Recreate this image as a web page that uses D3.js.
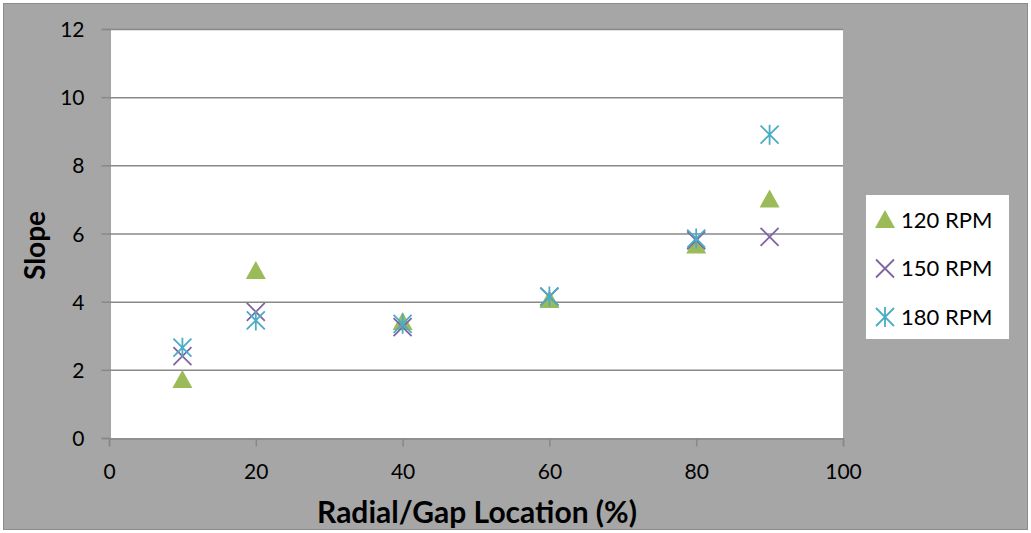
<!DOCTYPE html>
<html lang="en">
  <head>
    <meta charset="UTF-8" />
    <title>Slope chart</title>
    <style>
      body { margin: 0; background: #fff; }
      svg text { font-family: Lato, "Open Sans", sans-serif; fill: #000; }
    </style>
  </head>
  <body>
    <div class="chart"></div>
    <script src="https://d3js.org/d3.v7.min.js"></script>
    <script>
      // data =====================================================
      const locations = [10, 20, 40, 60, 80, 90];
      const rpm120 = [1.7, 4.9, 3.4, 4.05, 5.65, 7.0];
      const rpm150 = [2.4, 3.7, 3.25, 4.15, 5.8, 5.9];
      const rpm180 = [2.65, 3.45, 3.35, 4.15, 5.85, 8.9];
      const xTicks = [0, 20, 40, 60, 80, 100];
      const yTicks = [0, 2, 4, 6, 8, 10, 12];
      const seriesNames = ["120 RPM", "150 RPM", "180 RPM"];

      const W = 1031, H = 533;
      const plot = { left: 109, right: 843, top: 29, bottom: 438 };

      const svg = d3.select(".chart").append("svg")
        .attr("width", W).attr("height", H);

      // background
      svg.append("rect").attr("x", 0).attr("y", 0).attr("width", W).attr("height", H)
        .attr("fill", "#fff");
      svg.append("rect").attr("x", 3.5).attr("y", 3.5).attr("width", W - 7).attr("height", H - 7)
        .attr("fill", "#a6a6a6").attr("stroke", "#8c8c8c").attr("stroke-width", 1);

      const x = d3.scaleLinear().domain([0, 100]).range([plot.left, plot.right]);
      const y = d3.scaleLinear().domain([0, 12]).range([plot.bottom, plot.top]);

      svg.append("rect")
        .attr("x", plot.left).attr("y", plot.top)
        .attr("width", plot.right - plot.left).attr("height", plot.bottom - plot.top)
        .attr("fill", "#fff");

      // gridlines
      svg.append("g").selectAll("line").data(yTicks.filter(d => d > 0)).enter().append("line")
        .attr("x1", plot.left).attr("x2", plot.right)
        .attr("y1", d => y(d) + 0.5).attr("y2", d => y(d) + 0.5)
        .attr("stroke", "#888").attr("stroke-width", 1.5);

      // axes
      const yAxis = svg.append("g").attr("transform", `translate(${plot.left + 0.5},0)`)
        .call(d3.axisLeft(y).tickValues(yTicks).tickSize(8).tickPadding(17));
      const xAxis = svg.append("g").attr("transform", `translate(0,${plot.bottom + 0.5})`)
        .call(d3.axisBottom(x).tickValues(xTicks).tickSize(8).tickPadding(18));

      [xAxis, yAxis].forEach(g => {
        g.select(".domain").attr("stroke", "#888").attr("stroke-width", 1.5);
        g.selectAll(".tick line").attr("stroke", "#888").attr("stroke-width", 1.5);
        g.selectAll(".tick text").style("font-size", "21px").attr("fill", "#000");
      });
      yAxis.selectAll(".tick text").attr("dy", "0.36em");

      // axis titles
      svg.append("text")
        .attr("x", (plot.left + plot.right) / 2 + 1).attr("y", 523)
        .attr("text-anchor", "middle")
        .style("font-size", "30px").style("font-weight", "bold")
        .text("Radial/Gap Location (%)");
      svg.append("text")
        .attr("transform", `translate(45,${(plot.top + plot.bottom) / 2 + 12}) rotate(-90)`)
        .attr("text-anchor", "middle")
        .style("font-size", "28px").style("font-weight", "bold")
        .text("Slope");

      // markers
      const green = "#9bbb59", purple = "#8064a2", cyan = "#4bacc6";

      function drawTriangle(g, cx, cy) {
        g.append("path").attr("d", "M0,-10L10,8L-10,8Z")
          .attr("transform", `translate(${cx},${cy})`).attr("fill", green);
      }
      function drawCross(g, cx, cy) {
        g.append("path").attr("d", "M-9,-9L9,9M-9,9L9,-9")
          .attr("transform", `translate(${cx},${cy})`)
          .attr("stroke", purple).attr("stroke-width", 1.8).attr("fill", "none");
      }
      function drawStar(g, cx, cy) {
        g.append("path").attr("d", "M-9,-9L9,9M-9,9L9,-9M0,-10L0,10")
          .attr("transform", `translate(${cx},${cy})`)
          .attr("stroke", cyan).attr("stroke-width", 1.8).attr("fill", "none");
      }

      const marks = svg.append("g");
      locations.forEach((loc, i) => drawTriangle(marks, x(loc), y(rpm120[i])));
      locations.forEach((loc, i) => drawCross(marks, x(loc), y(rpm150[i])));
      locations.forEach((loc, i) => drawStar(marks, x(loc), y(rpm180[i])));

      // legend
      const legend = svg.append("g");
      legend.append("rect").attr("x", 866).attr("y", 195).attr("width", 143).attr("height", 144)
        .attr("fill", "#fff");
      const drawers = [drawTriangle, drawCross, drawStar];
      seriesNames.forEach((name, i) => {
        const ly = 220 + i * 48.5;
        drawers[i](legend, 885, ly);
        legend.append("text").attr("x", 901).attr("y", ly).attr("dy", "0.36em")
          .style("font-size", "22px").text(name);
      });
    </script>
  </body>
</html>
